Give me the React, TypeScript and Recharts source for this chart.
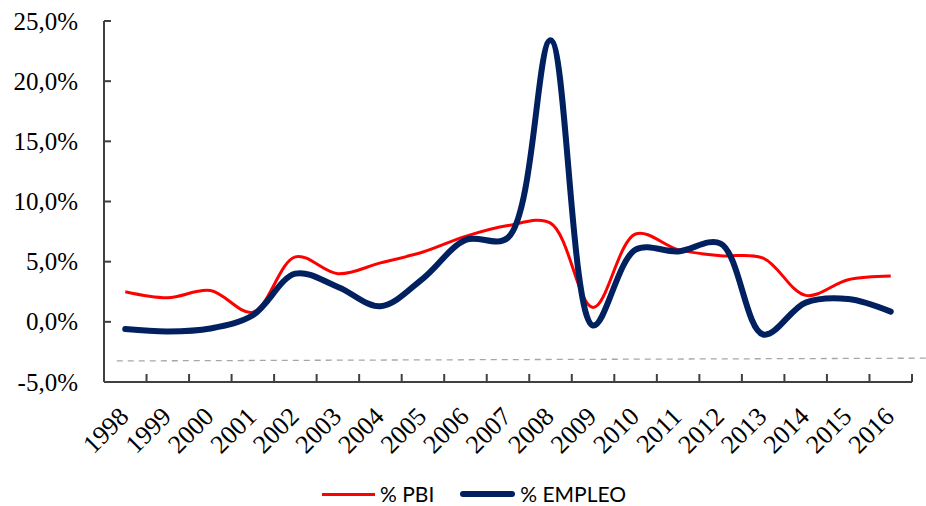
import React from 'react';
import { LineChart, Line, XAxis, YAxis, ReferenceLine, Legend } from 'recharts';

// ---- data ----
const years = ['1998', '1999', '2000', '2001', '2002', '2003', '2004', '2005', '2006', '2007', '2008', '2009', '2010', '2011', '2012', '2013', '2014', '2015', '2016'];
const pbi = [2.5, 2.0, 2.6, 0.8, 5.4, 4.0, 4.9, 5.8, 7.1, 8.0, 8.2, 1.2, 7.3, 6.0, 5.5, 5.3, 2.2, 3.5, 3.8];
const empleo = [-0.6, -0.8, -0.55, 0.55, 4.0, 2.9, 1.3, 3.6, 6.8, 7.0, 23.4, -0.3, 6.0, 5.85, 6.5, -1.05, 1.6, 1.9, 0.85];
const yTicks = [-5, 0, 5, 10, 15, 20, 25];
const seriesNames = ['% PBI', '% EMPLEO'];
// dashed gray reference line (start / end values)
const refStart = { x: 0.3, y: -3.25 };
const refEnd = { x: 19.35, y: -3.02 };

// ---- layout ----
const W = 926;
const H = 506;
const LEGEND_H = 24;
const X_AXIS_H = 90;
const M = { top: 21, right: 14, left: 0, bottom: 10 };
const Y_AXIS_W = 104;
const BAND = (W - M.left - Y_AXIS_W - M.right) / years.length;
const AXIS_COLOR = '#404040';

const data = years.map((year, i) => ({ x: i + 0.5, year, pbi: pbi[i], empleo: empleo[i] }));
const xTicks = Array.from({ length: years.length + 1 }, (_, i) => i);

// centripetal Catmull-Rom curve (smooth line similar to Excel smoothing)
const EPS = 1e-12;
function crPoint(that: any, x: number, y: number) {
  let x1 = that._x1, y1 = that._y1, x2 = that._x2, y2 = that._y2;
  if (that._l01_a > EPS) {
    const a = 2 * that._l01_2a + 3 * that._l01_a * that._l12_a + that._l12_2a;
    const n = 3 * that._l01_a * (that._l01_a + that._l12_a);
    x1 = (x1 * a - that._x0 * that._l12_2a + that._x2 * that._l01_2a) / n;
    y1 = (y1 * a - that._y0 * that._l12_2a + that._y2 * that._l01_2a) / n;
  }
  if (that._l23_a > EPS) {
    const b = 2 * that._l23_2a + 3 * that._l23_a * that._l12_a + that._l12_2a;
    const m = 3 * that._l23_a * (that._l23_a + that._l12_a);
    x2 = (x2 * b + that._x1 * that._l23_2a - x * that._l12_2a) / m;
    y2 = (y2 * b + that._y1 * that._l23_2a - y * that._l12_2a) / m;
  }
  that._context.bezierCurveTo(x1, y1, x2, y2, that._x2, that._y2);
}
class CatmullRom {
  _context: any; _alpha: number; _line: number = NaN; _point = 0;
  _x0 = NaN; _x1 = NaN; _x2 = NaN; _y0 = NaN; _y1 = NaN; _y2 = NaN;
  _l01_a = 0; _l12_a = 0; _l23_a = 0; _l01_2a = 0; _l12_2a = 0; _l23_2a = 0;
  constructor(context: any, alpha: number) { this._context = context; this._alpha = alpha; }
  areaStart() { this._line = 0; }
  areaEnd() { this._line = NaN; }
  lineStart() {
    this._x0 = this._x1 = this._x2 = this._y0 = this._y1 = this._y2 = NaN;
    this._l01_a = this._l12_a = this._l23_a = this._l01_2a = this._l12_2a = this._l23_2a = this._point = 0;
  }
  lineEnd() {
    switch (this._point) {
      case 2: this._context.lineTo(this._x2, this._y2); break;
      case 3: this.point(this._x2, this._y2); break;
    }
    if (this._line || (this._line !== 0 && this._point === 1)) this._context.closePath();
    this._line = 1 - this._line;
  }
  point(x: number, y: number) {
    x = +x; y = +y;
    if (this._point) {
      const x23 = this._x2 - x, y23 = this._y2 - y;
      this._l23_2a = Math.pow(x23 * x23 + y23 * y23, this._alpha);
      this._l23_a = Math.sqrt(this._l23_2a);
    }
    switch (this._point) {
      case 0: this._point = 1; this._line ? this._context.lineTo(x, y) : this._context.moveTo(x, y); break;
      case 1: this._point = 2; break;
      case 2: this._point = 3; crPoint(this, x, y); break;
      default: crPoint(this, x, y); break;
    }
    this._l01_a = this._l12_a; this._l12_a = this._l23_a;
    this._l01_2a = this._l12_2a; this._l12_2a = this._l23_2a;
    this._x0 = this._x1; this._x1 = this._x2; this._x2 = x;
    this._y0 = this._y1; this._y1 = this._y2; this._y2 = y;
  }
}
const smoothCurve: any = (context: any) => new CatmullRom(context, 0.5);

const fmt = (v: number) => v.toFixed(1).replace('.', ',') + '%';

const YTick = (props: any) => {
  const { x, y, payload } = props;
  return (
    <g>
      <line x1={x} y1={y} x2={x + 7} y2={y} stroke={AXIS_COLOR} strokeWidth={2} />
      <text x={x - 26} y={y} textAnchor="end" dominantBaseline="central" fontFamily="'Liberation Serif', 'Times New Roman', serif" fontSize={25} fill="#000">
        {fmt(payload.value)}
      </text>
    </g>
  );
};

const XTick = (props: any) => {
  const { x, y, payload } = props;
  const i = payload.value;
  const tx = x + BAND / 2 + 5;
  const ty = y + 36;
  return (
    <g>
      <line x1={x} y1={y} x2={x} y2={y - 8} stroke={AXIS_COLOR} strokeWidth={2} />
      {i < years.length && (
        <text x={tx} y={ty} transform={`rotate(-45 ${tx} ${ty})`} textAnchor="end" fontFamily="'Liberation Serif', 'Times New Roman', serif" fontSize={26} fill="#000">
          {years[i]}
        </text>
      )}
    </g>
  );
};

const LegendContent = () => (
  <div style={{ display: 'flex', alignItems: 'center', height: LEGEND_H, fontFamily: "Lato, 'Open Sans', sans-serif", fontSize: 21, lineHeight: `${LEGEND_H}px`, color: '#000', whiteSpace: 'nowrap' }}>
    <span style={{ display: 'inline-block', width: 53, height: 3, background: '#FF0000', marginRight: 5 }} />
    <span>{seriesNames[0]}</span>
    <span style={{ display: 'inline-block', width: 55, height: 6, borderRadius: 3, background: '#002060', marginLeft: 26, marginRight: 5 }} />
    <span>{seriesNames[1]}</span>
  </div>
);

export default function App() {
  return (
    <div style={{ position: 'absolute', left: 0, top: 0, width: W, height: H, background: '#fff' }}>
      <LineChart width={W} height={H} data={data} margin={M}>
        <XAxis
          dataKey="x"
          type="number"
          domain={[0, years.length]}
          ticks={xTicks}
          interval={0}
          height={X_AXIS_H}
          tickSize={0}
          tickMargin={0}
          tickLine={false}
          axisLine={{ stroke: AXIS_COLOR, strokeWidth: 2 }}
          tick={<XTick />}
          allowDataOverflow
        />
        <YAxis
          type="number"
          domain={[-5, 25]}
          ticks={yTicks}
          interval={0}
          width={Y_AXIS_W}
          tickSize={0}
          tickMargin={0}
          tickLine={false}
          axisLine={{ stroke: AXIS_COLOR, strokeWidth: 2 }}
          tick={<YTick />}
        />
        <ReferenceLine
          segment={[refStart, refEnd]}
          stroke="#A6A6A6"
          strokeWidth={1.3}
          strokeDasharray="6 5"
          ifOverflow="visible"
        />
        <Line dataKey="pbi" name={seriesNames[0]} type={smoothCurve} stroke="#FF0000" strokeWidth={3} dot={false} activeDot={false} isAnimationActive={false} />
        <Line dataKey="empleo" name={seriesNames[1]} type={smoothCurve} stroke="#002060" strokeWidth={6} strokeLinecap="round" dot={false} activeDot={false} isAnimationActive={false} />
        <Legend
          verticalAlign="bottom"
          height={LEGEND_H}
          wrapperStyle={{ position: 'absolute', left: 322, top: H - LEGEND_H, width: 320, height: LEGEND_H }}
          content={<LegendContent />}
        />
      </LineChart>
    </div>
  );
}
